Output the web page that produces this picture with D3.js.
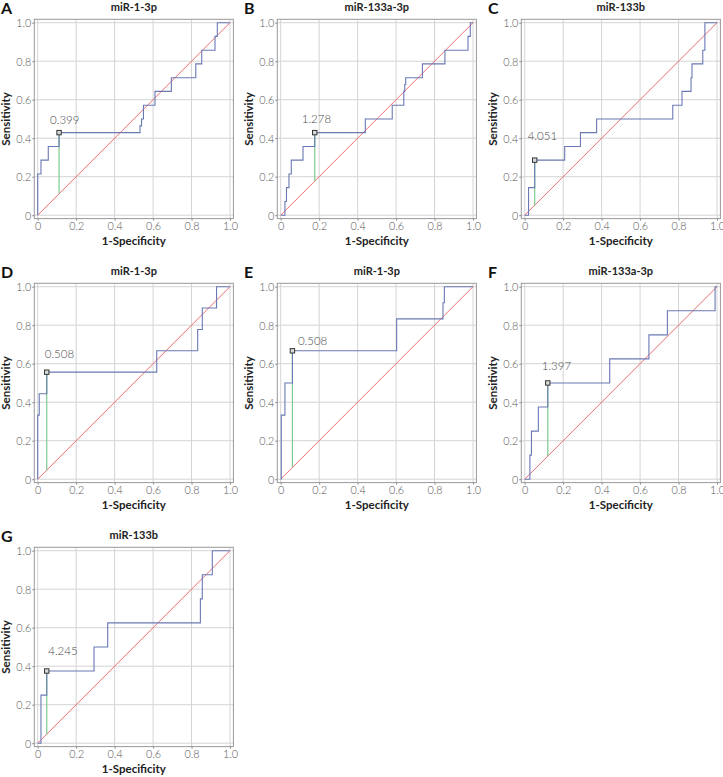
<!DOCTYPE html>
<html><head><meta charset="utf-8">
<script src="https://cdn.jsdelivr.net/npm/d3@7"></script>
<style>
body{margin:0;background:#fff;}
svg{display:block;}
</style>
</head><body>
<svg id="chart" width="723" height="777"></svg>
<script>
// ---------------- DATA ----------------
const panelLetters = ["A","B","C","D","E","F","G"];
const panelTitles = ["miR-1-3p","miR-133a-3p","miR-133b","miR-1-3p","miR-1-3p","miR-133a-3p","miR-133b"];
const cutoffLabels = ["0.399","1.278","4.051","0.508","0.508","1.397","4.245"];
const cutoffFpr = [0.111,0.177,0.052,0.047,0.061,0.120,0.047];
const cutoffTpr = [0.429,0.429,0.286,0.556,0.667,0.500,0.375];

// ROC points: each (fpr, tpr) ends a horizontal step at level tpr
const rocFprA = [0,0.017,0.055,0.111,0.532,0.540,0.550,0.610,0.695,0.822,0.853,0.922,0.934,1];
const rocTprA = [0,0.214,0.286,0.357,0.429,0.464,0.500,0.571,0.643,0.714,0.786,0.857,0.929,1];
const rocFprB = [0,0.022,0.030,0.043,0.055,0.116,0.177,0.440,0.580,0.640,0.645,0.650,0.737,0.854,0.974,0.986,1];
const rocTprB = [0,0,0.071,0.143,0.214,0.286,0.357,0.429,0.500,0.571,0.643,0.679,0.714,0.786,0.857,0.929,1];
const rocFprC = [0,0.020,0.052,0.208,0.290,0.374,0.770,0.818,0.865,0.870,0.926,0.937,1];
const rocTprC = [0,0,0.143,0.286,0.357,0.429,0.500,0.571,0.643,0.714,0.786,0.857,1];
const rocFprD = [0,0.008,0.047,0.619,0.832,0.856,0.930,1];
const rocTprD = [0,0.333,0.444,0.556,0.667,0.778,0.889,1];
const rocFprE = [0,0.003,0.022,0.061,0.603,0.844,0.851,1];
const rocTprE = [0,0,0.333,0.500,0.667,0.833,0.917,1];
const rocFprF = [0,0.027,0.035,0.071,0.120,0.442,0.646,0.742,0.990,1];
const rocTprF = [0,0,0.125,0.250,0.375,0.500,0.625,0.750,0.875,1];
const rocFprG = [0,0.017,0.047,0.293,0.364,0.846,0.856,0.908,1];
const rocTprG = [0,0,0.250,0.375,0.500,0.625,0.750,0.875,1];

const rocFpr = [rocFprA,rocFprB,rocFprC,rocFprD,rocFprE,rocFprF,rocFprG];
const rocTpr = [rocTprA,rocTprB,rocTprC,rocTprD,rocTprE,rocTprF,rocTprG];

const tickValues = [0,0.2,0.4,0.6,0.8,1.0];
const tickLabels = ["0","0.2","0.4","0.6","0.8","1.0"];
const xAxisTitle = "1-Specificity";
const yAxisTitle = "Sensitivity";

// ---------------- LAYOUT ----------------
const colX = [0,243,487];
const rowY = [0,264,528];
const plotX0 = 37.7, plotX1 = 230, plotY0 = 215.2, plotY1 = 22.7;
const framePad = 3.4;
const labelOffsets = [[-9,-8.5],[-13,-10],[-7,-20],[-2,-14],[5.5,-6],[-6,-12.5],[1.5,-16]];

const FONT = "Lato, 'Open Sans', 'DejaVu Sans', sans-serif";
const svg = d3.select("#chart");

const x = d3.scaleLinear().domain([0,1]).range([plotX0,plotX1]);
const y = d3.scaleLinear().domain([0,1]).range([plotY0,plotY1]);
const fL = plotX0 - framePad, fR = plotX1 + framePad, fT = plotY1 - framePad, fB = plotY0 + framePad;

panelTitles.forEach((title,i)=>{
  const g = svg.append("g").attr("transform",`translate(${colX[i%3]},${rowY[Math.floor(i/3)]})`);

  // grid
  g.append("g").selectAll("line").data(tickValues).join("line")
    .attr("x1",d=>x(d)).attr("x2",d=>x(d)).attr("y1",fT).attr("y2",fB)
    .attr("stroke","#d4d4d4").attr("stroke-width",1);
  g.append("g").selectAll("line").data(tickValues).join("line")
    .attr("y1",d=>y(d)).attr("y2",d=>y(d)).attr("x1",fL).attr("x2",fR)
    .attr("stroke","#d4d4d4").attr("stroke-width",1);

  // frame
  g.append("rect").attr("x",fL).attr("y",fT).attr("width",fR-fL).attr("height",fB-fT)
    .attr("fill","none").attr("stroke","#9a9a9a").attr("stroke-width",1);

  // axes
  const xa = g.append("g").attr("transform",`translate(0,${fB})`)
    .call(d3.axisBottom(x).tickValues(tickValues).tickFormat((d,k)=>tickLabels[k]).tickSize(2).tickPadding(2));
  const ya = g.append("g").attr("transform",`translate(${fL},0)`)
    .call(d3.axisLeft(y).tickValues(tickValues).tickFormat((d,k)=>tickLabels[k]).tickSize(2).tickPadding(2));
  [xa,ya].forEach(a=>{
    a.select(".domain").remove();
    a.selectAll(".tick line").attr("stroke","#888");
    a.selectAll("text").attr("font-family",FONT).attr("font-size",10.8).attr("fill","#555").attr("font-weight",300);
  });
  xa.selectAll("text").attr("y",11.8).attr("dy",0);
  ya.selectAll("text").attr("x",-3).attr("dy","0.36em");

  // diagonal
  g.append("path").datum([[0,0],[1,1]])
    .attr("d",d3.line().x(d=>x(d[0])).y(d=>y(d[1])))
    .attr("fill","none").attr("stroke","#ea6f75").attr("stroke-width",1);

  // cutoff vertical
  g.append("line").attr("x1",x(cutoffFpr[i])).attr("x2",x(cutoffFpr[i]))
    .attr("y1",y(cutoffFpr[i])).attr("y2",y(cutoffTpr[i]))
    .attr("stroke","#7ccb90").attr("stroke-width",1.2);

  // ROC curve
  const pts = rocFpr[i].map((f,k)=>[f,rocTpr[i][k]]);
  g.append("path").datum(pts)
    .attr("d",d3.line().x(d=>x(d[0])).y(d=>y(d[1])).curve(d3.curveStepBefore))
    .attr("fill","none").attr("stroke","#6a79b3").attr("stroke-width",1.1);

  // marker
  g.append("rect").attr("x",x(cutoffFpr[i])-2.2).attr("y",y(cutoffTpr[i])-2.2)
    .attr("width",4.4).attr("height",4.4).attr("fill","#d8dcd8").attr("stroke","#333").attr("stroke-width",1);

  // cutoff label
  g.append("text").attr("x",x(cutoffFpr[i])+labelOffsets[i][0]).attr("y",y(cutoffTpr[i])+labelOffsets[i][1])
    .attr("font-family",FONT).attr("font-size",11.5).attr("fill","#4a4a4a").attr("font-weight",300)
    .text(cutoffLabels[i]);

  // title
  g.append("text").attr("x",(fL+fR)/2).attr("y",11).attr("text-anchor","middle")
    .attr("font-family",FONT).attr("font-size",11).attr("font-weight",700).attr("fill","#222")
    .text(title);
  // letter
  g.append("text").attr("x",1).attr("y",14)
    .attr("font-family",FONT).attr("font-size",16).attr("font-weight",700).attr("fill","#111")
    .text(panelLetters[i]);
  // axis titles
  g.append("text").attr("x",(fL+fR)/2).attr("y",244.5).attr("text-anchor","middle")
    .attr("font-family",FONT).attr("font-size",11.5).attr("font-weight",700).attr("fill","#222")
    .text(xAxisTitle);
  g.append("text").attr("transform",`translate(9.5,${(fT+fB)/2}) rotate(-90)`).attr("text-anchor","middle")
    .attr("font-family",FONT).attr("font-size",11.5).attr("font-weight",700).attr("fill","#222")
    .text(yAxisTitle);
});
</script>
</body></html>
